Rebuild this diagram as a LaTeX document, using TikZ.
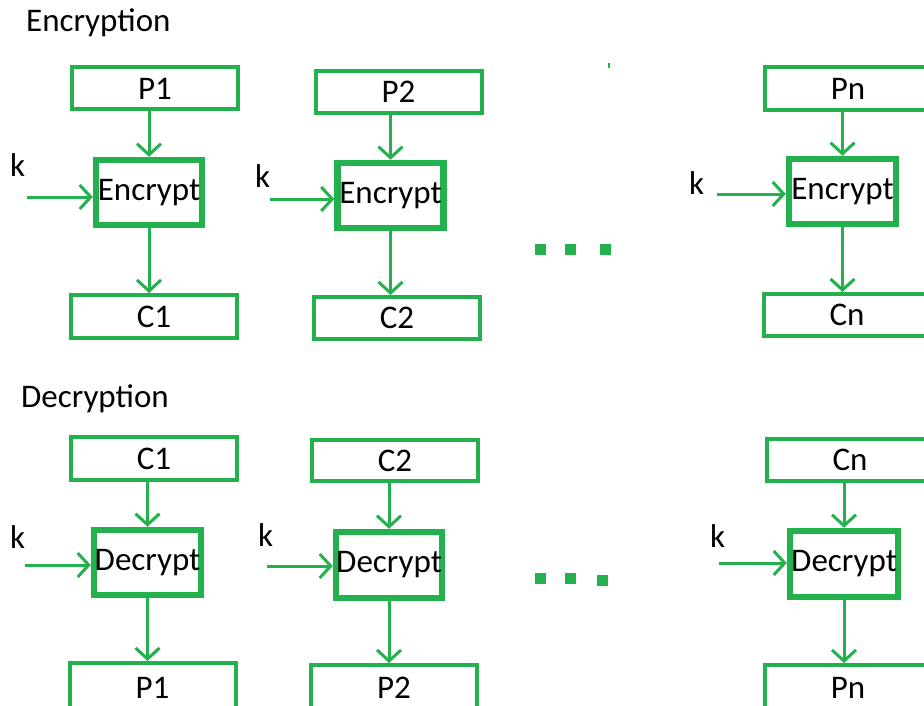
\documentclass[tikz,border=0pt]{standalone}
\usepackage{fontspec}
\setmainfont{Carlito}
\usetikzlibrary{arrows.meta}
\definecolor{pgreen}{RGB}{34,177,76}

\begin{document}
\begin{tikzpicture}[x=1pt,y=-1pt,
  every node/.style={font=\fontsize{33}{38}\selectfont, inner sep=0pt},
  blk/.style={draw=pgreen, line width=4pt, minimum width=166pt, minimum height=42pt},
  op/.style={draw=pgreen, line width=6.5pt, minimum width=106pt, minimum height=65pt},
  arr/.style={pgreen, line width=3pt, -{Straight Barb[length=11pt,width=24pt]}},
  sq/.style={fill=pgreen, minimum size=11pt}]
\useasboundingbox (0,0) rectangle (924,706);
\clip (0,0) rectangle (924,706);
%\draw [help lines, step=50] (0,0) grid (924,706);

% encryption
\node [anchor=base west] (enctitle) at (26,32) {Encryption};

\node [blk] (p1e) at (155,88.5) {P1};
\node [op] (enc1) at (149,192.5) {Encrypt};
\node [blk, minimum height=43pt] (c1e) at (154,316.5) {C1};
\node [anchor=base west] (k1e) at (10,176) {k};
\coordinate (ka1) at (27,197);
\draw [arr] (enc1.north |- p1e.south) -- (enc1.north);
\draw [arr] (enc1.south) -- (enc1.south |- c1e.north);
\draw [arr] (ka1) -- (ka1 -| enc1.west);

\node [blk] (p2e) at (398.5,92) {P2};
\node [op] (enc2) at (390.5,195.5) {Encrypt};
\node [blk] (c2e) at (397,318) {C2};
\node [anchor=base west] (k2e) at (255,188) {k};
\coordinate (ka2) at (270,199);
\draw [arr] (enc2.north |- p2e.south) -- (enc2.north);
\draw [arr] (enc2.south) -- (enc2.south |- c2e.north);
\draw [arr] (ka2) -- (ka2 -| enc2.west);

\node [sq] (de1) at (540,249) {};
\node [sq] (de2) at (570,249) {};
\node [sq] (de3) at (605,249) {};
\draw [pgreen, line width=2pt] (609,63) -- (609,68);

\node [blk, minimum height=43pt] (pne) at (848,88.5) {Pn};
\node [op, minimum width=107pt] (encn) at (842.5,191.5) {Encrypt};
\node [blk] (cne) at (847,315) {Cn};
\node [anchor=base west] (kne) at (689,194) {k};
\coordinate (kan) at (717,194);
\draw [arr] (encn.north |- pne.south) -- (encn.north);
\draw [arr] (encn.south) -- (encn.south |- cne.north);
\draw [arr] (kan) -- (kan -| encn.west);

% decryption
\node [anchor=base west] (dectitle) at (21,407) {Decryption};

\node [blk, minimum height=43pt] (c1d) at (154,458.5) {C1};
\node [op, minimum width=107pt] (dec1) at (147.5,562.5) {Decrypt};
\node [blk, minimum height=50pt] (p1d) at (152.5,688) {P1};
\node [anchor=base west] (k1d) at (10,548) {k};
\coordinate (kb1) at (25,565);
\draw [arr] (dec1.north |- c1d.south) -- (dec1.north);
\draw [arr] (dec1.south) -- (dec1.south |- p1d.north);
\draw [arr] (kb1) -- (kb1 -| dec1.west);

\node [blk, minimum height=41pt] (c2d) at (395,460.5) {C2};
\node [op, minimum height=66pt] (dec2) at (389,565) {Decrypt};
\node [blk, minimum height=46pt] (p2d) at (394,688) {P2};
\node [anchor=base west] (k2d) at (258,546) {k};
\coordinate (kb2) at (267,566);
\draw [arr] (dec2.north |- c2d.south) -- (dec2.north);
\draw [arr] (dec2.south) -- (dec2.south |- p2d.north);
\draw [arr] (kb2) -- (kb2 -| dec2.west);

\node [sq] (dd1) at (540,578) {};
\node [sq] (dd2) at (570,578) {};
\node [sq] (dd3) at (602,580) {};

\node [blk] (cnd) at (850,460) {Cn};
\node [op, minimum width=108pt, minimum height=66pt] (decn) at (844,564) {Decrypt};
\node [blk, minimum height=46pt] (pnd) at (848,688) {Pn};
\node [anchor=base west] (knd) at (710,547) {k};
\coordinate (kbn) at (719,563);
\draw [arr] (decn.north |- cnd.south) -- (decn.north);
\draw [arr] (decn.south) -- (decn.south |- pnd.north);
\draw [arr] (kbn) -- (kbn -| decn.west);
\end{tikzpicture}
\end{document}
